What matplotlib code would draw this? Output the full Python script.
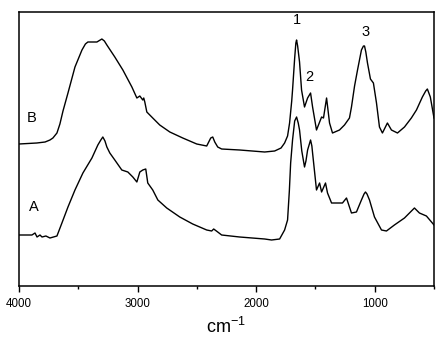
import matplotlib
matplotlib.use("Agg")
import matplotlib.pyplot as plt
from matplotlib.ticker import FixedLocator

plt.rcParams['font.family'] = ['Liberation Sans', 'DejaVu Sans']
plt.rcParams['mathtext.fontset'] = 'custom'
plt.rcParams['mathtext.rm'] = 'Liberation Sans'
plt.rcParams['mathtext.it'] = 'Liberation Sans'

# Spectrum B (upper trace), wavenumber in cm-1 and absorbance (arbitrary units)
wn_b = [4000, 3850, 3780, 3739, 3714, 3680, 3655, 3629, 3587, 3528, 3469, 3440,
        3419, 3343, 3301, 3280, 3259, 3192, 3124, 3048, 3006, 2981, 2956, 2948,
        2939, 2922, 2872, 2813, 2728, 2619, 2501, 2417, 2383, 2366, 2349, 2324,
        2291, 2139, 1928, 1844, 1790, 1760, 1735, 1718, 1700, 1693, 1675, 1665,
        1659, 1650, 1634, 1617, 1592, 1566, 1541, 1524, 1491, 1448, 1432, 1406,
        1381, 1356, 1297, 1255, 1213, 1196, 1170, 1145, 1112, 1095, 1086, 1075,
        1061, 1036, 1011, 985, 960, 935, 893, 859, 808, 749, 691, 648, 598, 570,
        556, 531, 500]
ab_b = [142, 143, 144, 146, 148, 153, 162, 175, 193, 219, 236, 242,
        244, 244, 247, 245, 241, 229, 216, 199, 188, 190, 186, 188,
        184, 174, 168, 161, 154, 148, 142, 140, 148, 149, 144, 139,
        137, 136, 134, 135, 138, 143, 150, 163, 185, 196, 228, 243,
        246, 240, 224, 196, 179, 188, 193, 179, 156, 169, 168, 188,
        163, 153, 156, 161, 168, 179, 200, 216, 236, 240, 240, 234,
        223, 207, 203, 183, 159, 153, 163, 156, 153, 159, 168, 176, 189, 195,
        197, 189, 168]

# Spectrum A (lower trace)
wn_a = [4000, 3891, 3865, 3848, 3823, 3806, 3773, 3739, 3680, 3638, 3587, 3528,
        3461, 3385, 3335, 3310, 3293, 3275, 3259, 3234, 3192, 3133, 3082, 3040,
        3006, 2981, 2956, 2931, 2914, 2872, 2829, 2754, 2644, 2535, 2417, 2375,
        2358, 2324, 2291, 2139, 1928, 1870, 1802, 1760, 1735, 1720, 1709, 1693,
        1675, 1659, 1645, 1634, 1615, 1592, 1580, 1566, 1541, 1530, 1524, 1491,
        1465, 1448, 1415, 1398, 1364, 1314, 1272, 1238, 1213, 1196, 1154, 1112,
        1090, 1078, 1065, 1044, 1002, 943, 901, 834, 749, 665, 623, 564, 514, 500]
ab_a = [51, 51, 53, 49, 51, 49, 50, 48, 50, 63, 79, 96,
        113, 128, 141, 146, 149, 145, 139, 133, 126, 116, 114, 109,
        104, 114, 116, 117, 103, 96, 86, 78, 69, 62, 56, 55,
        57, 54, 51, 49, 47, 46, 47, 56, 66, 95, 123, 146,
        165, 169, 163, 156, 135, 119, 125, 136, 146, 140, 133, 96,
        103, 94, 103, 93, 83, 83, 83, 88, 79, 73, 74, 86,
        92, 94, 92, 86, 69, 56, 55, 61, 68, 78, 73, 70, 63, 61]

x_ticks = [4000, 3000, 2000, 1000]
x_minor = [3500, 2500, 1500, 500]
x_tick_labels = ['4000', '3000', '2000', '1000']

peak_labels = ['1', '2', '3']
peak_pos = [(1659, 266), (1550, 209), (1078, 254)]
trace_labels = ['B', 'A']
trace_pos = [(3891, 168), (3874, 79)]

fig = plt.figure(figsize=(4.48, 3.41), dpi=100)
ax = fig.add_axes([19/448, 1-286/341, (434-19)/448, (286-12)/341])

ax.plot(wn_b, ab_b, color='black', lw=1.0, solid_joinstyle='round')
ax.plot(wn_a, ab_a, color='black', lw=1.0, solid_joinstyle='round')

ax.set_xlim(4000, 500)
ax.set_ylim(0, 274)

ax.xaxis.set_major_locator(FixedLocator(x_ticks))
ax.set_xticklabels(x_tick_labels)
ax.xaxis.set_minor_locator(FixedLocator(x_minor))
ax.tick_params(axis='x', which='major', direction='out', length=4.3, width=1, pad=4, labelsize=8.3)
ax.tick_params(axis='x', which='minor', direction='out', length=2.2, width=1)
ax.set_yticks([])
for s in ax.spines.values():
    s.set_linewidth(1.1)

for t, (x, y) in zip(peak_labels, peak_pos):
    ax.text(x, y, t, ha='center', va='center', fontsize=10.5)
for t, (x, y) in zip(trace_labels, trace_pos):
    ax.text(x, y, t, ha='center', va='center', fontsize=10.5)

fig.text(226/448, 1-327/341, 'cm$^{-1}$', ha='center', va='center', fontsize=13)

fig.savefig('out.png', dpi=100)
